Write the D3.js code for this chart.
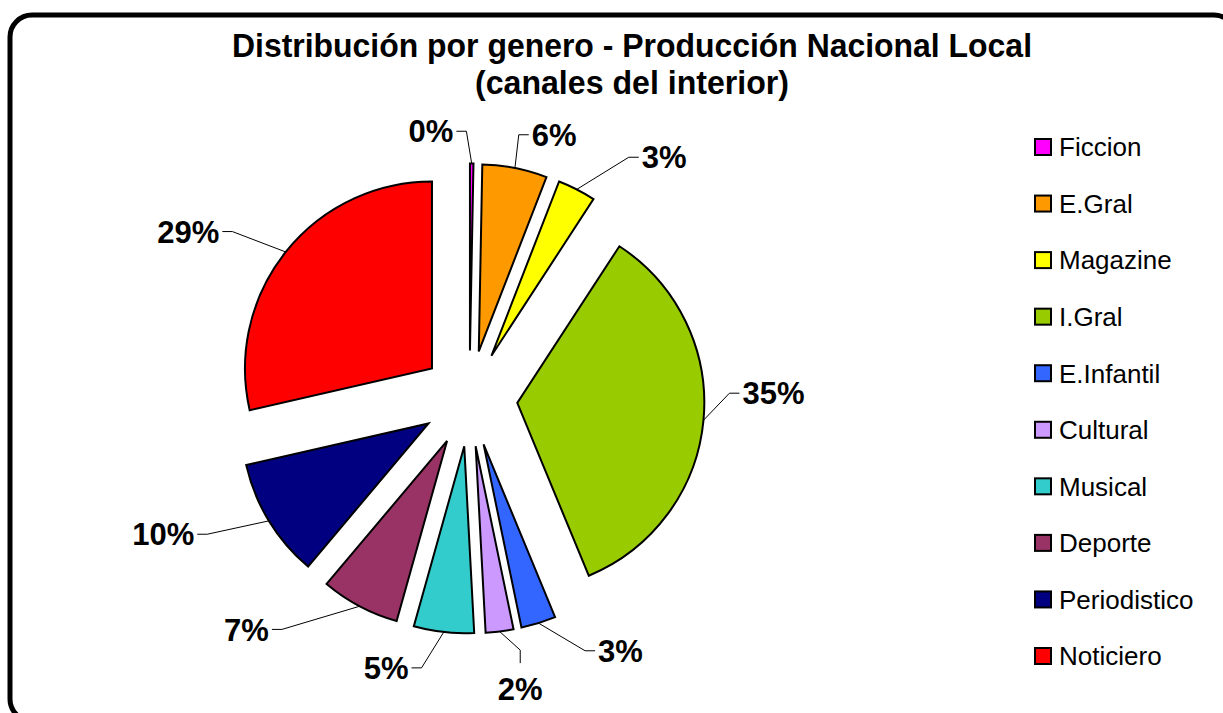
<!DOCTYPE html>
<html>
<head>
<meta charset="utf-8">
<script src="https://cdn.jsdelivr.net/npm/d3@7/dist/d3.min.js"></script>
<style>
  html, body { margin: 0; padding: 0; background: #fff; }
  svg { display: block; }
  text { font-family: "Liberation Sans", Arial, sans-serif; }
</style>
</head>
<body>
<svg id="chart" width="1223" height="713"></svg>
<script>
// data (share of hours, %)
const categories = ['Ficcion', 'E.Gral', 'Magazine', 'I.Gral', 'E.Infantil', 'Cultural', 'Musical', 'Deporte', 'Periodistico', 'Noticiero'];
const shares     = [0.3, 5.6, 3.3, 34.6, 3.0, 2.4, 5.2, 6.8, 10.3, 28.6];
const colors     = ['#FF00FF', '#FF9900', '#FFFF00', '#99CC00', '#3366FF', '#CC99FF', '#33CCCC', '#993366', '#000080', '#FF0000'];
const titleLines = ['Distribución por genero - Producción Nacional Local', '(canales del interior)'];

// where each data label sits (polar around the pie centre) and which side the leader leaves from
const labelAngles = [351.8, 17.8, 38.9, 89.0, 149.1, 170.1, 197.2, 224.0, 246.1, 300.7];
const labelDists  = [270, 277, 310, 304, 294, 295, 282, 321, 335, 327];
const leaderSides = ['r', 'l', 'l', 'l', 'l', 't', 'r', 'r', 'r', 'r'];

const width  = 1223;
const height = 713;
const cx = 469.5, cy = 398.5;
const radius  = 187;
const explode = 48;

const svg = d3.select('#chart');

// rounded frame
svg.append('rect')
  .attr('x', 10).attr('y', 15)
  .attr('width', 1226).attr('height', 706)
  .attr('rx', 22).attr('ry', 22)
  .attr('fill', '#fff')
  .attr('stroke', '#000')
  .attr('stroke-width', 5);

// title
svg.append('g')
  .selectAll('text')
  .data(titleLines)
  .enter()
  .append('text')
  .attr('x', 632)
  .attr('y', (d, i) => 57 + i * 37)
  .attr('text-anchor', 'middle')
  .attr('font-size', 33)
  .attr('font-weight', 'bold')
  .attr('textLength', (d, i) => i === 0 ? 800 : 314)
  .attr('lengthAdjust', 'spacingAndGlyphs')
  .text(d => d);

const data = categories.map((c, i) => ({name: c, v: shares[i], color: colors[i], i: i}));
const total = d3.sum(shares);
const fmt = d3.format('.0%');

const pie = d3.pie().sort(null).value(d => d.v);
const arc = d3.arc().innerRadius(0).outerRadius(radius);
const arcs = pie(data);

const mid = a => (a.startAngle + a.endAngle) / 2;
const offset = a => [explode * Math.sin(mid(a)), -explode * Math.cos(mid(a))];

const slices = svg.append('g').attr('transform', `translate(${cx},${cy})`);

slices.selectAll('path')
  .data(arcs)
  .enter()
  .append('path')
  .attr('transform', a => `translate(${offset(a)[0]},${offset(a)[1]})`)
  .attr('d', arc)
  .attr('fill', a => a.data.color)
  .attr('stroke', '#000')
  .attr('stroke-width', 2)
  .attr('stroke-linejoin', 'miter');

// data labels + leader lines
const labels = svg.append('g');
arcs.forEach((a, i) => {
  const ang = labelAngles[i] * Math.PI / 180;
  const lx = cx + labelDists[i] * Math.sin(ang);
  const ly = cy - labelDists[i] * Math.cos(ang);

  const t = labels.append('text')
    .attr('x', lx)
    .attr('y', ly)
    .attr('dy', '0.36em')
    .attr('text-anchor', 'middle')
    .attr('font-size', 31)
    .attr('font-weight', 'bold')
    .text(fmt(a.data.v / total));

  const bb = t.node().getBBox();
  const m = mid(a);
  const o = offset(a);
  const tip = [cx + o[0] + radius * Math.sin(m), cy + o[1] - radius * Math.cos(m)];

  let p0, p1;
  if (leaderSides[i] === 'r') {
    p0 = [bb.x + bb.width + 3, ly];
    p1 = [p0[0] + 10, ly];
  } else if (leaderSides[i] === 'l') {
    p0 = [bb.x - 3, ly];
    p1 = [p0[0] - 10, ly];
  } else {
    p0 = [lx, ly - 26];
    p1 = [lx, p0[1] - 13];
  }

  labels.append('path')
    .attr('d', d3.line()([p0, p1, tip]))
    .attr('fill', 'none')
    .attr('stroke', '#000')
    .attr('stroke-width', 1);
});

// legend
const legendY = d3.scalePoint()
  .domain(categories)
  .range([147, 656]);

const legend = svg.append('g')
  .selectAll('g')
  .data(data)
  .enter()
  .append('g')
  .attr('transform', d => `translate(1035,${legendY(d.name)})`);

legend.append('rect')
  .attr('x', 0)
  .attr('y', -8)
  .attr('width', 16)
  .attr('height', 16)
  .attr('fill', d => d.color)
  .attr('stroke', '#000')
  .attr('stroke-width', 2);

legend.append('text')
  .attr('x', 24)
  .attr('y', 0)
  .attr('dy', '0.36em')
  .attr('font-size', 26)
  .text(d => d.name);
</script>
</body>
</html>
